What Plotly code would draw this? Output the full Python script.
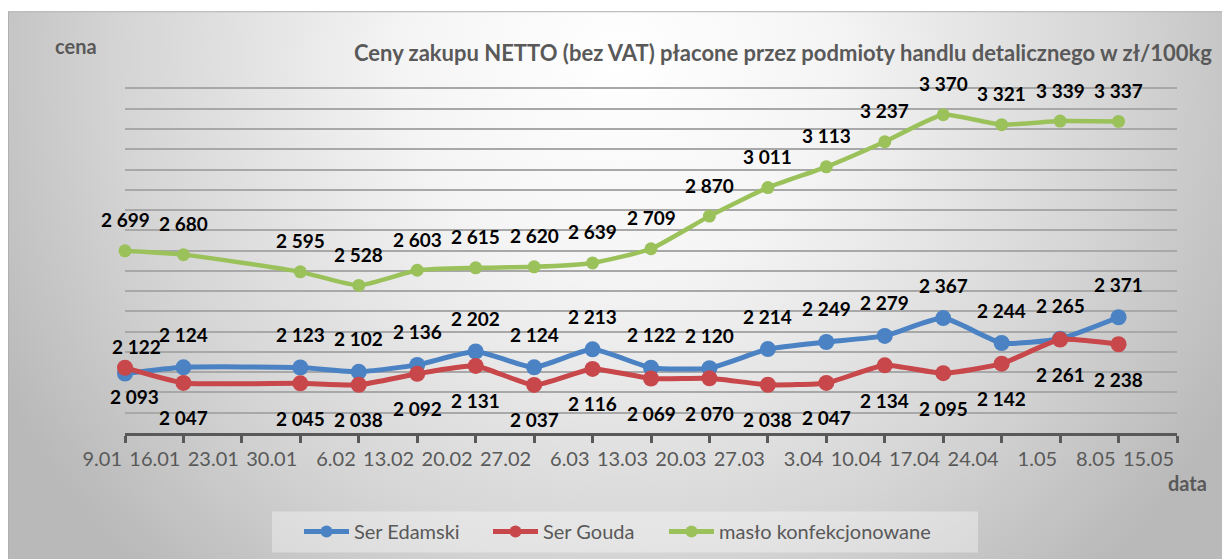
import base64
import plotly.graph_objects as go

# ---------------- data ----------------
dates = ["2017-01-09", "2017-01-16", "2017-01-30", "2017-02-06", "2017-02-13",
         "2017-02-20", "2017-02-27", "2017-03-06", "2017-03-13", "2017-03-20",
         "2017-03-27", "2017-04-03", "2017-04-10", "2017-04-17", "2017-04-24",
         "2017-05-01", "2017-05-08"]
ser_edamski = [2093, 2124, 2123, 2102, 2136, 2202, 2124, 2213, 2122, 2120,
               2214, 2249, 2279, 2367, 2244, 2265, 2371]
ser_gouda = [2122, 2047, 2045, 2038, 2092, 2131, 2037, 2116, 2069, 2070,
             2038, 2047, 2134, 2095, 2142, 2261, 2238]
maslo = [2699, 2680, 2595, 2528, 2603, 2615, 2620, 2639, 2709, 2870,
         3011, 3113, 3237, 3370, 3321, 3339, 3337]
series_names = ["Ser Edamski", "Ser Gouda", "masło konfekcjonowane"]

tick_dates = ["2017-01-09", "2017-01-16", "2017-01-23", "2017-01-30", "2017-02-06",
              "2017-02-13", "2017-02-20", "2017-02-27", "2017-03-06", "2017-03-13",
              "2017-03-20", "2017-03-27", "2017-04-03", "2017-04-10", "2017-04-17",
              "2017-04-24", "2017-05-01", "2017-05-08", "2017-05-15"]
tick_labels = ["9.01", "16.01", "23.01", "30.01", "6.02", "13.02", "20.02", "27.02",
               "6.03", "13.03", "20.03", "27.03", "3.04", "10.04", "17.04", "24.04",
               "1.05", "8.05", "15.05"]

title_text = "Ceny zakupu NETTO (bez VAT) płacone przez podmioty handlu detalicznego w zł/100kg"
y_title = "cena"
x_title = "data"

# ---------------- style ----------------
W, H = 1230, 559
OFF = 8  # page body margin offset
Y_MIN, Y_MAX = 1800, 3507          # small headroom so the 3500 gridline is drawn
PX_PER_UNIT = 345 / 1700
PW = 1052
PH = (Y_MAX - Y_MIN) * PX_PER_UNIT
ML = 125 - OFF
MT = 433.3 - PH - OFF
MR, MB = W - ML - PW, H - MT - PH
FONT = "Lato"
GRAY = "#595959"
colors = ["#4a82c4", "#c8474a", "#9bc25a"]
line_widths = [5, 5, 4.5]
marker_sizes = [16, 16, 13]
legend_widths = [129, 116, None]
label_yshift = [33, -35, 31]
# individual label offsets (series index, point index) -> (xshift, yshift)
label_override = {(0, 0): (9, -23), (1, 0): (11, 21)}


def px_x(p):
    # p: screen pixel as seen in the reference
    return (p - OFF - ML) / PW


def px_y(p):
    return (MT + PH - (p - OFF)) / PH


fig = go.Figure()
all_values = [ser_edamski, ser_gouda, maslo]
for i, (name, vals) in enumerate(zip(series_names, all_values)):
    fig.add_trace(go.Scatter(
        x=dates, y=vals, name=name, mode="lines+markers",
        line=dict(color=colors[i], width=line_widths[i], shape="spline", smoothing=0.5),
        marker=dict(color=colors[i], size=marker_sizes[i], symbol="circle"),
        cliponaxis=False, hoverinfo="x+y+name",
        legendwidth=legend_widths[i],
    ))

annotations = []
for i, vals in enumerate(all_values):
    for j, (d, v) in enumerate(zip(dates, vals)):
        xs, ys = label_override.get((i, j), (0, label_yshift[i]))
        annotations.append(dict(
            x=d, y=v, xref="x", yref="y", text=f"{v:,}".replace(",", " "),
            showarrow=False, xshift=xs, yshift=ys,
            font=dict(family=FONT, size=19, color="#000000", weight="bold"),
        ))

annotations.append(dict(
    x=px_x(1214), y=px_y(52), xref="paper", yref="paper", xanchor="right", yanchor="middle",
    text=title_text, showarrow=False,
    font=dict(family=FONT, size=22, color=GRAY, weight="bold")))
annotations.append(dict(
    x=px_x(76), y=px_y(46), xref="paper", yref="paper", xanchor="center", yanchor="middle",
    text=y_title, showarrow=False,
    font=dict(family=FONT, size=20, color=GRAY, weight="bold")))
annotations.append(dict(
    x=px_x(1187), y=px_y(483), xref="paper", yref="paper", xanchor="center", yanchor="middle",
    text=x_title, showarrow=False,
    font=dict(family=FONT, size=20, color=GRAY, weight="bold")))

# background: chart frame with radial gradient (figure pixel coordinates)
fx, fy = 8 - OFF, 11 - OFF
svg = (
    f'<svg xmlns="http://www.w3.org/2000/svg" width="{W}" height="{H}" viewBox="0 0 {W} {H}" '
    'preserveAspectRatio="none">'
    f'<defs><radialGradient id="g" gradientUnits="userSpaceOnUse" cx="{620 - OFF}" cy="{60 - OFF}" r="700">'
    '<stop offset="0" stop-color="#ffffff"/>'
    '<stop offset="0.3" stop-color="#f5f5f5"/>'
    '<stop offset="0.72" stop-color="#d4d4d4"/>'
    '<stop offset="1" stop-color="#b9b9b9"/>'
    '</radialGradient></defs>'
    f'<rect x="{fx + 0.5}" y="{fy + 0.5}" width="{W}" height="{H}" fill="url(#g)" '
    'stroke="#b0b0b0" stroke-width="1"/>'
    '</svg>'
)
uri = "data:image/svg+xml;base64," + base64.b64encode(svg.encode("utf-8")).decode("ascii")

fig.update_layout(
    width=W, height=H,
    margin=dict(l=ML, r=MR, t=MT, b=MB, pad=0, autoexpand=False),
    paper_bgcolor="#ffffff", plot_bgcolor="rgba(0,0,0,0)",
    font=dict(family=FONT, color=GRAY),
    showlegend=True,
    legend=dict(
        orientation="h", x=px_x(299), xanchor="left", y=px_y(532), yanchor="middle",
        bgcolor="rgba(0,0,0,0)", borderwidth=0, itemsizing="constant",
        font=dict(family=FONT, size=20, color=GRAY), itemwidth=45,
    ),
    annotations=annotations,
    shapes=[dict(
        type="rect", xref="paper", yref="paper", layer="below",
        x0=px_x(272), x1=px_x(978), y0=px_y(553), y1=px_y(512),
        fillcolor="rgba(255,255,255,0.35)", line=dict(width=0),
    )],
    images=[dict(
        source=uri, xref="paper", yref="paper",
        x=-ML / PW, y=(MT + PH) / PH, sizex=W / PW, sizey=H / PH,
        xanchor="left", yanchor="top", sizing="stretch", layer="below",
    )],
)

fig.update_xaxes(
    type="date", range=[tick_dates[0], tick_dates[-1]],
    tickmode="array", tickvals=tick_dates, ticktext=tick_labels,
    ticklabelposition="outside left", ticklabelstandoff=6, tickangle=0,
    ticks="outside", ticklen=7, tickwidth=3, tickcolor=GRAY,
    showline=True, linewidth=3, linecolor=GRAY,
    showgrid=False, zeroline=False, automargin=False,
    tickfont=dict(family=FONT, size=20, color=GRAY),
)
fig.update_yaxes(
    range=[Y_MIN, Y_MAX], dtick=100, tick0=1800,
    showgrid=True, gridcolor="#a8a8a8", gridwidth=1.5,
    showticklabels=False, ticks="", showline=False, zeroline=False, automargin=False,
)

fig.write_html("out.html")
